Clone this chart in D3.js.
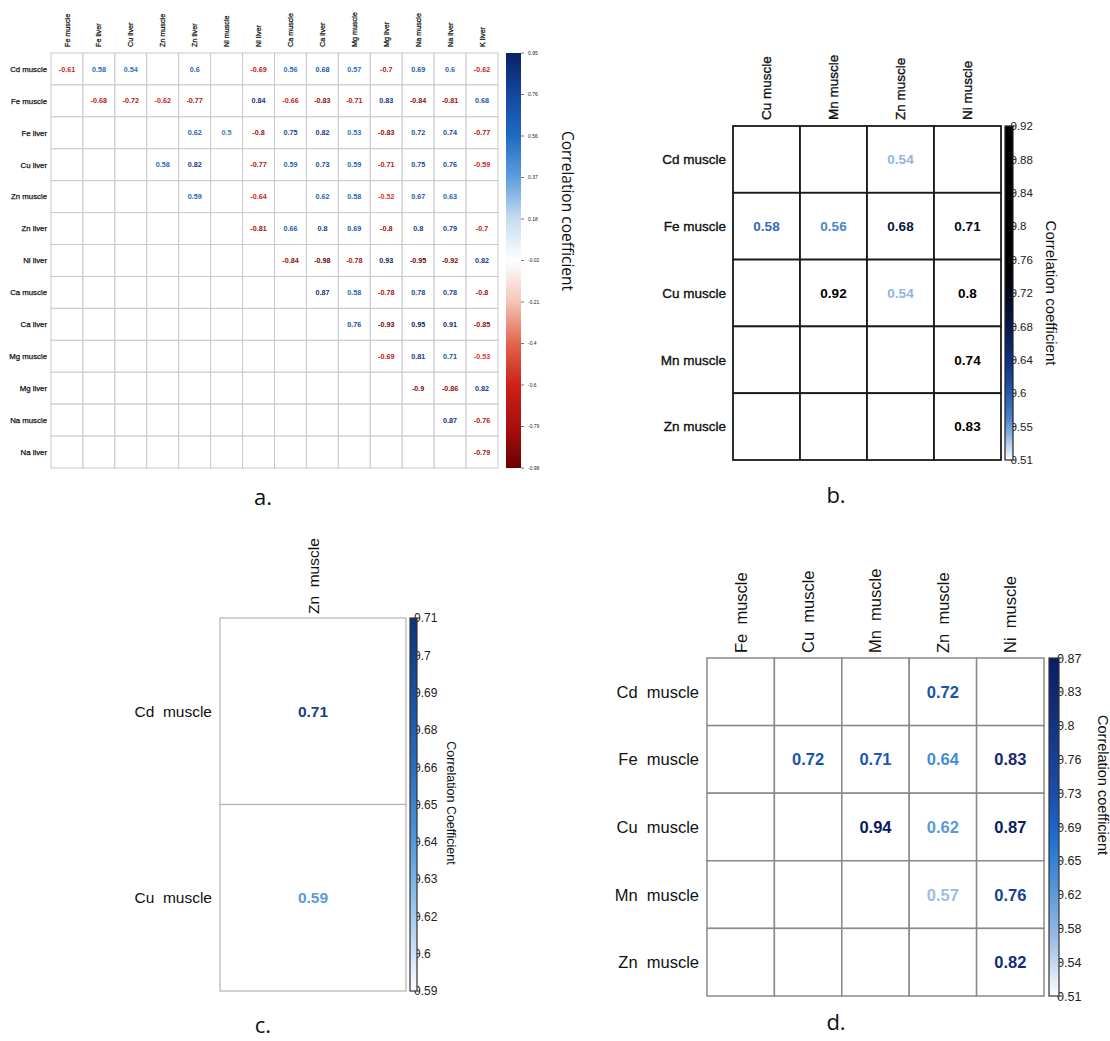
<!DOCTYPE html>
<html>
<head>
<meta charset="utf-8">
<script src="https://cdn.jsdelivr.net/npm/d3@7"></script>
<style>
  body { margin: 0; background: #fff; }
  svg { display: block; }
  text { font-family: "Liberation Sans", Arial, sans-serif; }
</style>
</head>
<body>
<svg id="fig" width="1110" height="1041"></svg>
<script>
// ---- Panel a: muscle / liver element correlations ----
const aCols = ["Fe muscle","Fe liver","Cu liver","Zn muscle","Zn liver","Ni muscle","Ni liver","Ca muscle","Ca liver","Mg muscle","Mg liver","Na muscle","Na liver","K liver"];
const aRows = ["Cd muscle","Fe muscle","Fe liver","Cu liver","Zn muscle","Zn liver","Ni liver","Ca muscle","Ca liver","Mg muscle","Mg liver","Na muscle","Na liver"];
const aValues = [
  [-0.61, 0.58, 0.54, null, 0.6, null, -0.69, 0.56, 0.68, 0.57, -0.7, 0.69, 0.6, -0.62],
  [null, -0.68, -0.72, -0.62, -0.77, null, 0.84, -0.66, -0.83, -0.71, 0.83, -0.84, -0.81, 0.68],
  [null, null, null, null, 0.62, 0.5, -0.8, 0.75, 0.82, 0.53, -0.83, 0.72, 0.74, -0.77],
  [null, null, null, 0.58, 0.82, null, -0.77, 0.59, 0.73, 0.59, -0.71, 0.75, 0.76, -0.59],
  [null, null, null, null, 0.59, null, -0.64, null, 0.62, 0.58, -0.52, 0.67, 0.63, null],
  [null, null, null, null, null, null, -0.81, 0.66, 0.8, 0.69, -0.8, 0.8, 0.79, -0.7],
  [null, null, null, null, null, null, null, -0.84, -0.98, -0.78, 0.93, -0.95, -0.92, 0.82],
  [null, null, null, null, null, null, null, null, 0.87, 0.58, -0.78, 0.78, 0.78, -0.8],
  [null, null, null, null, null, null, null, null, null, 0.76, -0.93, 0.95, 0.91, -0.85],
  [null, null, null, null, null, null, null, null, null, null, -0.69, 0.81, 0.71, -0.53],
  [null, null, null, null, null, null, null, null, null, null, null, -0.9, -0.86, 0.82],
  [null, null, null, null, null, null, null, null, null, null, null, null, 0.87, -0.76],
  [null, null, null, null, null, null, null, null, null, null, null, null, null, -0.79]
];
const aTicks = ["0.95","0.76","0.56","0.37","0.18","-0.02","-0.21","-0.4","-0.6","-0.79","-0.98"];

// ---- Panel b ----
const bCols = ["Cu muscle","Mn muscle","Zn muscle","Ni muscle"];
const bRows = ["Cd muscle","Fe muscle","Cu muscle","Mn muscle","Zn muscle"];
const bValues = [
  [null, null, 0.54, null],
  [0.58, 0.56, 0.68, 0.71],
  [null, 0.92, 0.54, 0.8],
  [null, null, null, 0.74],
  [null, null, null, 0.83]
];
const bTicks = ["0.92","0.88","0.84","0.8","0.76","0.72","0.68","0.64","0.6","0.55","0.51"];

// ---- Panel c ----
const cCols = ["Zn  muscle"];
const cRows = ["Cd  muscle","Cu  muscle"];
const cValues = [
  [0.71],
  [0.59]
];
const cTicks = ["0.71","0.7","0.69","0.68","0.66","0.65","0.64","0.63","0.62","0.6","0.59"];

// ---- Panel d ----
const dCols = ["Fe  muscle","Cu  muscle","Mn  muscle","Zn  muscle","Ni  muscle"];
const dRows = ["Cd  muscle","Fe  muscle","Cu  muscle","Mn  muscle","Zn  muscle"];
const dValues = [
  [null, null, null, 0.72, null],
  [null, 0.72, 0.71, 0.64, 0.83],
  [null, null, 0.94, 0.62, 0.87],
  [null, null, null, 0.57, 0.76],
  [null, null, null, null, 0.82]
];
const dTicks = ["0.87","0.83","0.8","0.76","0.73","0.69","0.65","0.62","0.58","0.54","0.51"];

const svg = d3.select("#fig");
const defs = svg.append("defs");

// colour scales
const colorA = d3.scaleLinear()
  .domain([-0.98, -0.79, -0.6, -0.4, -0.21, -0.02, 0.18, 0.37, 0.56, 0.76, 0.95])
  .range(["#6b0000","#a80f0f","#cc2014","#e0664f","#f4c3b6","#ffffff","#c6dcf0","#5f9edc","#1f6cc3","#1446a0","#0a2264"])
  .clamp(true);
const colorB = d3.scaleLinear()
  .domain([0.51, 0.53, 0.56, 0.6, 0.64, 0.68, 0.74, 0.92])
  .range(["#ffffff","#b4cdec","#4a85c9","#1e50a8","#0d2a78","#071640","#000000","#000000"])
  .clamp(true);
const colorC = d3.scaleLinear()
  .domain([0.59, 0.6, 0.62, 0.64, 0.66, 0.68, 0.71])
  .range(["#ffffff","#d6e7f8","#8cc0ec","#4e93d8","#2d70c0","#1a55a8","#0d3578"])
  .clamp(true);
const textC = d3.scaleLinear()
  .domain([0.59, 0.71])
  .range(["#5b9bd5","#1a3f8a"])
  .clamp(true);
const colorD = d3.scaleLinear()
  .domain([0.51, 0.57, 0.62, 0.65, 0.69, 0.73, 0.8, 0.87])
  .range(["#ffffff","#9dbde4","#5a9ad8","#3886d6","#1a64c8","#1a4ca6","#153280","#0b1c64"])
  .clamp(true);

function drawPanel(cfg) {
  const g = svg.append("g");
  const x = d3.scaleBand().domain(cfg.cols).range([cfg.x0, cfg.x1]);
  const y = d3.scaleBand().domain(cfg.rows).range([cfg.y0, cfg.y1]);

  const cells = [];
  cfg.rows.forEach((r, i) => cfg.cols.forEach((c, j) => cells.push({ r, c, v: cfg.values[i][j] })));

  // grid cells
  g.selectAll("rect.cell").data(cells).join("rect")
    .attr("class", "cell")
    .attr("x", d => x(d.c)).attr("y", d => y(d.r))
    .attr("width", x.bandwidth()).attr("height", y.bandwidth())
    .attr("fill", "#fff")
    .attr("stroke", cfg.grid).attr("stroke-width", cfg.gridW);

  // coefficient values
  const tcol = cfg.textColor || cfg.color;
  g.selectAll("text.val").data(cells.filter(d => d.v !== null)).join("text")
    .attr("class", "val")
    .attr("x", d => x(d.c) + x.bandwidth() / 2)
    .attr("y", d => y(d.r) + y.bandwidth() / 2)
    .attr("dy", "0.36em")
    .attr("text-anchor", "middle")
    .attr("font-size", cfg.valSize)
    .attr("font-weight", "bold")
    .attr("fill", d => tcol(d.v))
    .text(d => String(d.v));

  // row labels
  g.selectAll("text.row").data(cfg.rows).join("text")
    .attr("class", "row")
    .attr("x", cfg.rowX)
    .attr("y", d => y(d) + y.bandwidth() / 2)
    .attr("dy", "0.36em")
    .attr("text-anchor", "end")
    .attr("font-size", cfg.labSize)
    .attr("fill", "#111")
    .style("white-space", "pre")
    .attr("stroke", cfg.labStroke ? "#111" : null)
    .attr("stroke-width", cfg.labStroke || null)
    .text(d => d);

  // column labels (vertical)
  g.selectAll("text.col").data(cfg.cols).join("text")
    .attr("class", "col")
    .attr("transform", d => `translate(${x(d) + x.bandwidth() / 2},${cfg.colY}) rotate(-90)`)
    .attr("dy", "0.36em")
    .attr("text-anchor", "start")
    .attr("font-size", cfg.colSize || cfg.labSize)
    .attr("fill", "#111")
    .style("white-space", "pre")
    .attr("stroke", cfg.labStroke ? "#111" : null)
    .attr("stroke-width", cfg.labStroke || null)
    .text(d => d);

  // colour bar
  const dom = cfg.color.domain();
  const lo = dom[0], hi = dom[dom.length - 1];
  const grad = defs.append("linearGradient")
    .attr("id", cfg.id + "-grad")
    .attr("x1", 0).attr("y1", 1).attr("x2", 0).attr("y2", 0);
  grad.selectAll("stop").data(d3.range(41)).join("stop")
    .attr("offset", i => i / 40)
    .attr("stop-color", i => cfg.color(lo + (hi - lo) * i / 40));

  const ty = d3.scalePoint().domain(cfg.ticks).range([cfg.y0, cfg.y1]);
  const bg = g.append("g");
  bg.selectAll("line.tk").data(cfg.ticks).join("line")
    .attr("x1", cfg.barX1).attr("x2", cfg.barX1 + cfg.tickLen)
    .attr("y1", d => ty(d)).attr("y2", d => ty(d))
    .attr("stroke", cfg.tickColor).attr("stroke-width", 1);
  bg.selectAll("text.tk").data(cfg.ticks).join("text")
    .attr("x", cfg.tickX)
    .attr("y", d => ty(d))
    .attr("dy", "0.36em")
    .attr("font-size", cfg.tickSize)
    .attr("fill", "#222")
    .text(d => d);
  bg.append("rect")
    .attr("x", cfg.barX0).attr("y", cfg.y0)
    .attr("width", cfg.barX1 - cfg.barX0).attr("height", cfg.y1 - cfg.y0)
    .attr("fill", `url(#${cfg.id}-grad)`)
    .attr("stroke", cfg.barStroke).attr("stroke-width", cfg.barStroke === "none" ? 0 : 1.2);

  // colour bar title
  g.append("text")
    .attr("transform", `translate(${cfg.titleX},${cfg.titleY}) rotate(90)`)
    .attr("text-anchor", "middle")
    .attr("dy", "0.36em")
    .attr("font-size", cfg.titleSize)
    .attr("fill", "#111")
    .style("font-family", cfg.titleFont || null)
    .text(cfg.title);

  // panel letter
  svg.append("text")
    .attr("x", cfg.letterX).attr("y", cfg.letterY)
    .attr("text-anchor", "middle")
    .attr("font-size", 22)
    .attr("fill", "#111")
    .style("font-family", "'Open Sans', sans-serif")
    .text(cfg.letter);
}

drawPanel({
  id: "pa", cols: aCols, rows: aRows, values: aValues, ticks: aTicks, color: colorA,
  x0: 51, x1: 498, y0: 53, y1: 468,
  grid: "#c9c9c9", gridW: 1,
  valSize: 7.2, labSize: 7.8, colSize: 7.2, rowX: 47, colY: 47, labStroke: 0.25,
  barX0: 506, barX1: 521, tickLen: 3, tickX: 528, tickSize: 5, tickColor: "#777", barStroke: "none",
  title: "Correlation coefficient", titleX: 568, titleY: 211, titleSize: 15.5, titleFont: "'Open Sans', sans-serif",
  letter: "a.", letterX: 263, letterY: 505
});

drawPanel({
  id: "pb", cols: bCols, rows: bRows, values: bValues, ticks: bTicks, color: colorB,
  x0: 733, x1: 1001, y0: 126, y1: 460,
  grid: "#1a1a1a", gridW: 1.8,
  valSize: 13.5, labSize: 13.5, rowX: 726, colY: 120, labStroke: 0.35,
  barX0: 1005, barX1: 1013, tickLen: 3, tickX: 1010.5, tickSize: 11.5, tickColor: "#222", barStroke: "#222",
  title: "Correlation coefficient", titleX: 1051, titleY: 293, titleSize: 15,
  letter: "b.", letterX: 836, letterY: 503
});

drawPanel({
  id: "pc", cols: cCols, rows: cRows, values: cValues, ticks: cTicks, color: colorC, textColor: textC,
  x0: 220, x1: 406, y0: 618, y1: 991,
  grid: "#b3b3b3", gridW: 1.2,
  valSize: 15.5, labSize: 15.5, rowX: 212, colY: 614,
  barX0: 410, barX1: 417, tickLen: 3, tickX: 414, tickSize: 12, tickColor: "#333", barStroke: "#333",
  title: "Correlation Coefficient", titleX: 451, titleY: 803, titleSize: 12.5,
  letter: "c.", letterX: 263, letterY: 1033
});

drawPanel({
  id: "pd", cols: dCols, rows: dRows, values: dValues, ticks: dTicks, color: colorD,
  x0: 707, x1: 1044, y0: 658, y1: 996,
  grid: "#8a8a8a", gridW: 1.5,
  valSize: 16.5, labSize: 16.5, rowX: 699, colY: 653,
  barX0: 1049, barX1: 1059, tickLen: 3, tickX: 1057, tickSize: 12.5, tickColor: "#222", barStroke: "#333",
  title: "Correlation coefficient", titleX: 1103, titleY: 785, titleSize: 14.5,
  letter: "d.", letterX: 836, letterY: 1030
});
</script>
</body>
</html>
